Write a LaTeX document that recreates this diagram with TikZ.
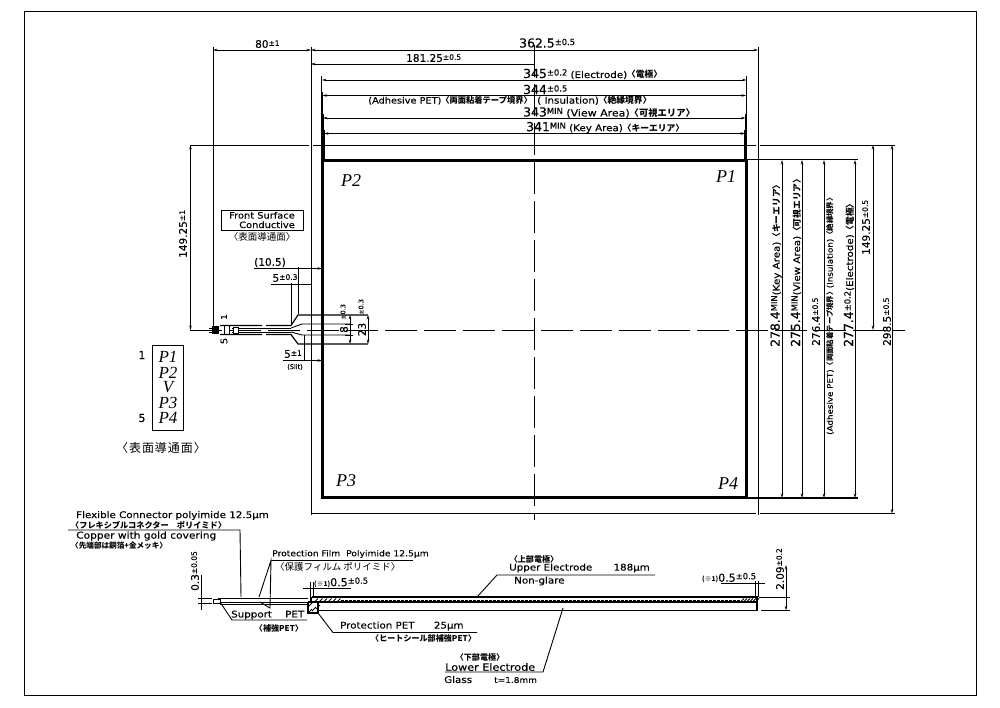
\documentclass[tikz,border=0pt]{standalone}
\usepackage{fontspec}
\setmainfont{DejaVu Sans}[FakeStretch=1.12,FakeBold=0.25]
\newfontfamily\numf{DejaVu Sans}[FakeBold=0.2]
\newfontfamily\jpf{Noto Sans CJK JP}[Scale=0.95]
\newfontfamily\jpw{Noto Sans CJK JP}[LetterSpace=8]
\newfontfamily\serifit{Liberation Serif}
\usetikzlibrary{arrows.meta}
\newcommand{\dimtxt}[2]{{\numf\fontsize{10.5}{10.5}\selectfont #1}{\numf\fontsize{7.5}{7.5}\selectfont\raisebox{2pt}{#2}}}
\newcommand{\dimbig}[2]{{\numf\fontsize{12.4}{12.4}\selectfont #1}{\numf\fontsize{8.4}{8.4}\selectfont\raisebox{2.5pt}{#2}}}
\newcommand{\dimmid}[2]{{\numf\fontsize{11}{11}\selectfont #1}{\numf\fontsize{8.4}{8.4}\selectfont\raisebox{2.5pt}{#2}}}
\newcommand{\jp}[1]{{\jpf\bfseries #1}}
\tikzset{
  lab/.style={inner sep=0pt,font=\fontsize{9.2}{9.5}\selectfont,anchor=west,text=black},
  vlab/.style={lab,rotate=90},
  clab/.style={lab,anchor=center},
  ptxt/.style={inner sep=0pt,font=\fontsize{18}{18}\serifit\itshape\selectfont},
  pin/.style={inner sep=0pt,font=\fontsize{17}{17}\serifit\itshape\selectfont},
  thin line/.style={line width=0.9pt,black},
  mid line/.style={line width=1.2pt,black},
  heavy/.style={line width=3pt,black},
  dimline/.style={thin line,{Stealth[length=4.5pt,width=2.6pt]}-{Stealth[length=4.5pt,width=2.6pt]}},
  ctr/.style={line width=0.9pt,black,dash pattern=on 32pt off 7pt},
}
\begin{document}
\begin{tikzpicture}[x=1pt,y=-1pt]
\useasboundingbox (0,0) rectangle (1000,707);
\fill[white] (0,0) rectangle (1000,707);
\draw[line width=1pt,black] (24,11) rectangle (976,695);

% outer PET rectangle and extensions
\draw[thin line] (311,47) -- (311,515);
\draw[thin line] (758,47) -- (758,515);
\draw[thin line] (213,47) -- (213,328);
\draw[thin line] (190,145) -- (309,145) (313,145) -- (756,145) (760,145) -- (895,145);
\draw[thin line] (311,513.5) -- (756,513.5) (760,513.5) -- (895,513.5);
% thick panel
\draw[heavy] (322.5,160) rectangle (746,497.5);
\draw[thin line] (321.5,76) -- (321.5,160);
\draw[thin line] (322.3,92) -- (322.3,160);
\draw[mid line] (323,114) -- (323,160);
\draw[line width=1.6pt] (323.7,130) -- (323.7,160);
\draw[thin line] (746.7,76) -- (746.7,160);
\draw[thin line] (746,92) -- (746,160);
\draw[mid line] (745.4,114) -- (745.4,160);
\draw[line width=1.6pt] (745,130) -- (745,160);
\draw[mid line] (748,159.5) -- (858,159.5) (748,498) -- (858,498);
% centre lines
\draw[ctr] (534,45) -- (534,520);
\draw[ctr] (190,330) -- (905,330);

% top dimensions
\draw[dimline] (213,50) -- (311,50);
\draw[dimline] (311,50) -- (758,50);
\draw[dimline,{Stealth[length=4.5pt,width=2.6pt]}-] (311,64) -- (534,64);
\draw[dimline] (322,80) -- (746.5,80);
\draw[dimline] (322.5,95.5) -- (746,95.5);
\draw[dimline] (323,118) -- (745.5,118);
\draw[dimline] (324,133.5) -- (745,133.5);
\node[lab] (t80) at (255,44) {\dimtxt{80}{±1}};
\node[lab] (t3625) at (519,43) {\dimbig{362.5}{±0.5}};
\node[lab] (t181) at (406,58) {\dimtxt{181.25}{±0.5}};
\node[lab] (t345) at (523,74) {\dimbig{345}{±0.2} (Electrode)\jp{〈電極〉}};
\node[lab] (t344) at (523,89.5) {\dimbig{344}{±0.5}};
\node[lab,anchor=east,font=\fontsize{8.7}{9}\selectfont] (tadh) at (532,100.5) {(Adhesive PET)\jp{〈両面粘着テープ境界〉}};
\node[lab] (tins) at (537,100.5) {( Insulation)\jp{〈絶縁境界〉}};
\node[lab,font=\fontsize{9.8}{10}\selectfont] (t343) at (523,112.5) {\dimbig{343}{MIN} (View Area)\jp{〈可視エリア〉}};
\node[lab] (t341) at (526,127.5) {\dimbig{341}{MIN} (Key Area)\jp{〈キーエリア〉}};

% panel corner labels
\node[ptxt] (p2) at (351,181) {P2};
\node[ptxt] (p1) at (726,177) {P1};
\node[ptxt] (p3) at (346,481) {P3};
\node[ptxt] (p4) at (728,484) {P4};

% right dimensions
\draw[dimline] (782,160) -- (782,498);
\draw[dimline] (802,160) -- (802,498);
\draw[dimline] (824,160) -- (824,498);
\draw[dimline] (855,160) -- (855,498);
\draw[dimline] (873,145) -- (873,330);
\draw[dimline] (892,145) -- (892,513.5);
\node[vlab] (r1) at (776,347) {\dimbig{278.4}{MIN}(Key Area)\jp{〈キーエリア〉}};
\node[vlab] (r2) at (796,347) {\dimbig{275.4}{MIN}(View Area)\jp{〈可視エリア〉}};
\node[vlab] (r3) at (816,346) {\dimtxt{276.4}{±0.5}};
\node[vlab] (r4) at (830,435) {\fontsize{7.8}{8}\selectfont (Adhesive PET)\jp{〈両面粘着テープ境界〉}(Insulation)\jp{〈絶縁境界〉}};
\node[vlab] (r5) at (849,347) {\dimbig{277.4}{±0.2}(Electrode)\jp{〈電極〉}};
\node[vlab] (r6) at (866,255) {\dimtxt{149.25}{±0.5}};
\node[vlab] (r7) at (887,346) {\dimtxt{298.5}{±0.5}};

% left dimension
\draw[dimline] (190.5,145) -- (190.5,330);
\node[vlab] (l1) at (183,258) {\dimtxt{149.25}{±1}};

% front surface box
\node[draw,line width=1pt,inner sep=0pt,minimum width=82pt,minimum height=20pt,black] (fsbox) at (262,220) {};
\node[lab,anchor=center,font=\fontsize{8.8}{9.5}\selectfont,align=right] (fstxt) at (262,220) {Front Surface\\Conductive};
\node[clab] (fsj) at (262,237) {\fontsize{10}{10}\selectfont{\jpf 〈表面導通面〉}};

% flexible tail
\draw[mid line] (220,325.5) -- (262,325.5) (266,325.5) -- (291,325.5) -- (298,315) -- (368,315);
\draw[mid line] (220,334.5) -- (262,334.5) (266,334.5) -- (291,334.5) -- (298,344) -- (368,344);
\draw[thin line] (232,328) -- (291,328) (232,332) -- (291,332);
\draw[thin line] (291,328) -- (302,324) -- (350,324);
\draw[thin line] (291,332) -- (302,335) -- (350,335);
\fill[black] (212,326) rectangle (219,334);
\draw[thin line] (209,328) -- (212,328) (209,332) -- (212,332);
\draw[thin line] (224,325.5) -- (224,334.5) (229,325.5) -- (229,334.5);
\draw[thin line,fill=white] (233,327) rectangle (238,333);
\node[lab,anchor=center,rotate=90,font=\fontsize{8}{8}\selectfont] (n1) at (224,317) {1};
\node[lab,anchor=center,rotate=90,font=\fontsize{9}{9}\selectfont] (n5) at (224,341) {5};

% tail dimensions
\draw[thin line] (254,268.5) -- (300,268.5);
\draw[dimline,-{Stealth[length=4.5pt,width=2.6pt]}] (300,268.5) -- (322,268.5);
\draw[thin line] (271,284) -- (311,284);
\draw[thin line] (298,267) -- (298,314) (291,283) -- (291,325);
\node[clab] (d105) at (270,262.5) {{\numf\fontsize{10.5}{10.5}\selectfont (10.5)}};
\node[clab] (d5a) at (285,278) {\dimtxt{5}{±0.3}};
\draw[thin line] (345,324) -- (353,324) (345,335) -- (353,335);
\draw[dimline] (350,315) -- (350,344);
\draw[dimline] (368,315) -- (368,344);
\node[vlab,anchor=center,font=\numf\fontsize{10.5}{10.5}\selectfont] (d8) at (344,329.5) {8};
\node[vlab,anchor=center,font=\numf\fontsize{10.5}{10.5}\selectfont] (d23) at (362,329.5) {23};
\node[vlab,anchor=center,font=\numf\fontsize{6.5}{6.5}\selectfont] (d8t) at (343,312) {±0.3};
\node[vlab,anchor=center,font=\numf\fontsize{6.5}{6.5}\selectfont] (d23t) at (361,307) {±0.3};
\draw[thin line] (304.5,335) -- (304.5,360) (311,340) -- (311,360);
\draw[thin line] (283,360.5) -- (304,360.5);
\draw[dimline,-{Stealth[length=4.5pt,width=2.6pt]}] (304,360.5) -- (322,360.5);
\node[clab] (d5b) at (293,354) {\dimtxt{5}{±1}};
\node[clab,font=\numf\fontsize{6.5}{6.5}\selectfont] (dslit) at (295,367) {(Slit)};

% pin list
\node[draw,line width=1pt,black,inner sep=0pt,minimum width=31pt,minimum height=85pt] (pinbox) at (167.5,387.5) {};
\node[pin] (q1) at (168,357) {P1};
\node[pin] (q2) at (168,372.5) {P2};
\node[pin] (q3) at (168,387.5) {V};
\node[pin] (q4) at (168,402.5) {P3};
\node[pin] (q5) at (168,418) {P4};
\node[clab,font=\numf\fontsize{11}{11}\selectfont] (q6) at (142,355) {1};
\node[clab,font=\numf\fontsize{11}{11}\selectfont] (q7) at (142,418) {5};
\node[clab,font=\fontsize{12}{12}\selectfont] (q8) at (161,448) {{\jpw 〈表面導通面〉}};

% section: leaders and labels
\node[lab] (s1) at (76,515.5) {Flexible Connector polyimide 12.5\textmu m};
\node[lab,font=\fontsize{8.6}{9}\selectfont] (s2) at (71,525) {\jp{〈フレキシブルコネクター　ポリイミド〉}};
\draw[thin line] (68,530) -- (240,530) -- (241,597);
\node[lab,font=\fontsize{9.5}{10}\selectfont] (s3) at (76,536) {Copper with gold covering};
\node[lab,font=\fontsize{8}{8}\selectfont] (s4) at (71,546) {\jp{〈先端部は銅箔+金メッキ〉}};
\node[vlab] (s5) at (195,591) {\dimtxt{0.3}{±0.05}};
\draw[thin line] (201,575) -- (201,610);
\draw[mid line] (198,598.5) -- (212,598.5) (198,603.5) -- (212,603.5);
\node[lab,font=\fontsize{8.2}{9}\selectfont] (s6) at (272,554) {Protection Film\hspace{3pt} Polyimide 12.5\textmu m};
\draw[thin line] (271,560.5) -- (413,560.5);
\draw[thin line] (259,597) -- (271,560.5) -- (270,608) -- (260,602);
\node[lab,font=\fontsize{10}{10}\selectfont] (s7) at (275,566.5) {{\jpf 〈保護フィルム ポリイミド〉}};
\node[lab] (s8) at (231,615) {Support\hspace{10pt} PET};
\draw[thin line] (220,602) -- (232,620) -- (307,620);
\node[clab,font=\fontsize{8.5}{8}\selectfont] (s9) at (279,628.5) {\jp{〈補強PET〉}};

% section: tail
\draw[thin line] (213,599) rectangle (220,603.5);
\draw[line width=1.8pt] (218,598.5) -- (308,598.5);
\draw[line width=1.8pt] (220,602.5) -- (308,602.5);
\draw[thin line] (220,604.5) -- (308,604.5);

% section: panel
\draw[line width=1.8pt] (312,597) -- (758,597);
\draw[line width=1pt,dash pattern=on 2.5pt off 1.5pt] (341,600.2) -- (740,600.2);
\draw[mid line] (308,602) -- (757,602);
\draw[mid line] (318,610.5) -- (757,610.5);
\draw[mid line] (757,597) -- (757,610.5);
\draw[mid line] (311,597) -- (311,602);
\draw[mid line] (308,602) -- (308,613) -- (318,613) -- (318,602);
\foreach \i in {0,2,4}{\draw[thin line] (308+2*\i,613-\i) -- (312+2*\i,609-\i);}
\draw[thin line] (308,607) -- (313,602);
\foreach \i in {0,...,5}{\draw[thin line] (315+4.5*\i,601.5) -- (318+4.5*\i,598.5);}
\foreach \i in {0,...,5}{\draw[thin line] (741+3*\i,601.5) -- (744+3*\i,598.5);}

% section: small dims
\node[lab] (x1) at (314,582.5) {\fontsize{7}{7}\selectfont\jp{(※1)}\dimmid{0.5}{±0.5}};
\draw[thin line] (303,588) -- (351,588);
\draw[thin line] (310,582) -- (310,597) (313,582) -- (313,597);
\node[lab] (x2) at (702,578) {\fontsize{7}{7}\selectfont\jp{(※1)}\dimmid{0.5}{±0.5}};
\draw[thin line] (721,583.5) -- (765,583.5);
\draw[thin line] (755,581) -- (755,597) (758,581) -- (758,597);
\draw[dimline] (786,565) -- (786,610.5);
\draw[thin line] (759,597) -- (790,597) (761,610.5) -- (790,610.5);
\node[vlab] (x3) at (780,590) {\dimtxt{2.09}{±0.2}};

% section: lower labels
\draw[thin line] (318,613) -- (333,632.5) -- (477,632.5);
\node[lab] (b1) at (340,626) {Protection PET\hspace{16pt} 25\textmu m};
\node[lab,font=\fontsize{8.5}{8}\selectfont] (b2) at (371,638.5) {\jp{〈ヒートシール部補強PET〉}};
\draw[thin line] (477,597) -- (497,575) -- (655,575);
\node[clab,font=\fontsize{8.5}{8}\selectfont] (u1) at (534,559) {\jp{〈上部電極〉}};
\node[lab] (u2) at (509,568) {Upper Electrode\hspace{18pt} 188\textmu m};
\node[lab] (u3) at (514,581) {Non-glare};
\draw[thin line] (563,608) -- (543,672) -- (445,672);
\node[clab,font=\fontsize{8.5}{8}\selectfont] (w1) at (480,657) {\jp{〈下部電極〉}};
\node[lab,font=\fontsize{10}{10}\selectfont] (w2) at (445,667) {Lower Electrode};
\node[lab] (w3) at (444,679.5) {Glass};
\node[lab,font=\fontsize{8}{8}\selectfont] (w4) at (494,680) {t=1.8mm};
\end{tikzpicture}
\end{document}
